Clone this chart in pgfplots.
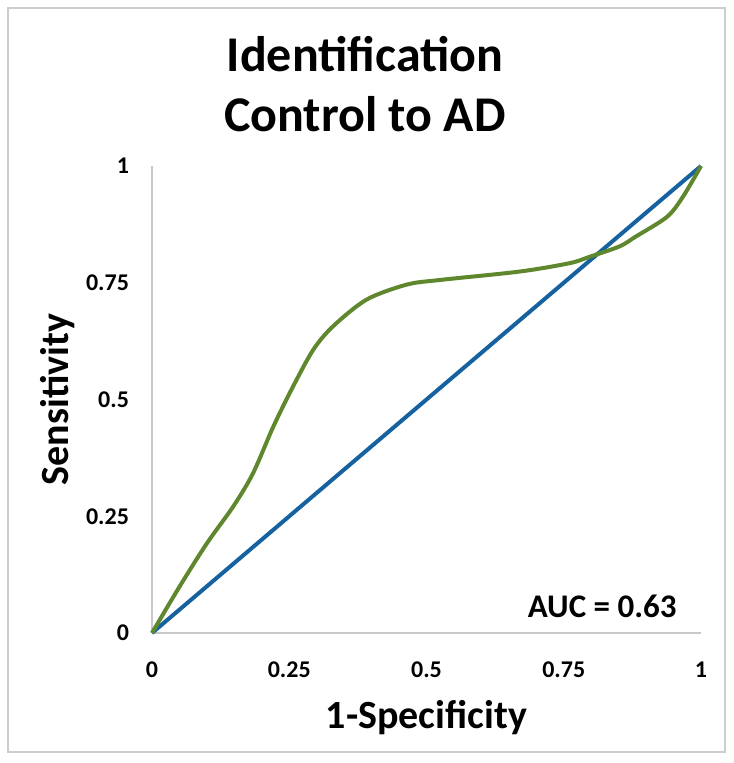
\documentclass[border=0pt]{standalone}
\usepackage{fontspec}
\setmainfont{Carlito}
\usepackage{pgfplots}
\pgfplotsset{compat=1.18}
\definecolor{rocblue}{RGB}{22,98,160}
\definecolor{rocgreen}{RGB}{95,135,45}
\definecolor{framegray}{RGB}{205,205,205}
\definecolor{axgray}{RGB}{200,200,200}

\begin{document}
\begin{tikzpicture}
  % page box, 0.5pt per pixel of the reference
  \useasboundingbox (-76pt,-65pt) rectangle (290.5pt,316.5pt);
  \draw[framegray, line width=1pt] (-72pt,-59.5pt) rectangle (286.5pt,312.5pt);

  \begin{axis}[
    at={(0,0)}, anchor=origin,
    scale only axis,
    width=274.5pt, height=233.5pt,
    xmin=0, xmax=1, ymin=0, ymax=1,
    axis x line=bottom, axis y line=left,
    axis line style={axgray, line width=0.8pt, -},
    xtick={0,0.25,0.5,0.75,1},
    ytick={0,0.25,0.5,0.75,1},
    major tick length=0pt,
    tick label style={font=\fontsize{12}{14}\selectfont\bfseries},
    /pgf/number format/assume math mode=true,
    xticklabel style={yshift=-11pt},
    yticklabel style={xshift=-8pt},
    xlabel={1-Specificity},
    ylabel={Sensitivity},
    label style={font=\fontsize{20}{24}\selectfont\bfseries},
    xlabel style={yshift=-4.5pt},
    ylabel style={yshift=-1pt},
    clip=false,
  ]
    \addplot[rocblue, line width=2pt] coordinates {(0,0) (1,1)};
    \addplot[rocgreen, line width=2pt, smooth, tension=0.5] coordinates {
      (0,0) (0.05,0.099) (0.10,0.192) (0.148,0.271) (0.184,0.342)
      (0.221,0.442) (0.257,0.528) (0.294,0.607) (0.33,0.657)
      (0.391,0.714) (0.464,0.746) (0.525,0.756) (0.67,0.774)
      (0.761,0.792) (0.798,0.806) (0.852,0.828) (0.88,0.848)
      (0.938,0.891) (0.967,0.934) (1,1)
    };
    \node[font=\fontsize{16.5}{20}\selectfont\bfseries] at (axis cs:0.82,0.058) {AUC = 0.63};
  \end{axis}

  \node[align=center, font=\fontsize{25}{30}\selectfont\bfseries] at (106.5pt,274.5pt)
    {Identification\\Control to AD};
\end{tikzpicture}
\end{document}
